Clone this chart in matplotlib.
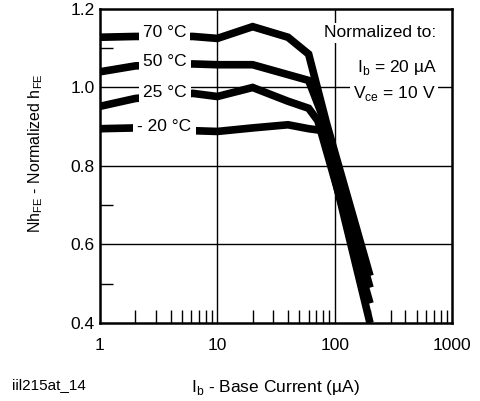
import matplotlib
matplotlib.use("Agg")
import matplotlib.pyplot as plt
from matplotlib.ticker import FixedLocator, NullFormatter, FixedFormatter

plt.rcParams["font.family"] = ["Liberation Sans", "DejaVu Sans"]

# base current (uA) and normalized hFE for each temperature
ib_70 = [1, 2, 6.2, 10, 20, 40, 60, 85, 200]
nh_70 = [1.128, 1.13, 1.13, 1.125, 1.155, 1.128, 1.085, 0.91, 0.52]
ib_50 = [1, 2, 6.2, 10, 20, 60, 78, 200]
nh_50 = [1.04, 1.055, 1.06, 1.058, 1.058, 1.018, 0.93, 0.49]
ib_25 = [1, 2, 6.2, 10, 20, 40, 60, 72, 200]
nh_25 = [0.952, 0.972, 0.985, 0.977, 1.0, 0.965, 0.947, 0.915, 0.45]
ib_m20 = [1, 2, 6.2, 10, 20, 40, 60, 80, 200]
nh_m20 = [0.895, 0.897, 0.89, 0.888, 0.897, 0.905, 0.895, 0.89, 0.40]

temp_labels = ["70 °C", "50 °C", "25 °C", "- 20 °C"]
label_y = [1.139, 1.065, 0.988, 0.90]

x_ticks = [1, 10, 100, 1000]
x_ticklabels = ["1", "10", "100", "1000"]
y_ticks = [0.4, 0.6, 0.8, 1.0, 1.2]
y_ticklabels = ["0.4", "0.6", "0.8", "1.0", "1.2"]

fig = plt.figure(figsize=(4.8, 4.01), dpi=100)
ax = fig.add_axes([0.2083, 0.1945, 0.7334, 0.7831])

for xs, ys in [(ib_70, nh_70), (ib_50, nh_50), (ib_25, nh_25), (ib_m20, nh_m20)]:
    ax.plot(xs, ys, color="black", lw=5.5, solid_joinstyle="miter",
            solid_capstyle="butt", zorder=3)

ax.set_xscale("log")
ax.set_xlim(1, 1000)
ax.set_ylim(0.4, 1.2)

ax.xaxis.set_major_locator(FixedLocator(x_ticks))
ax.xaxis.set_major_formatter(FixedFormatter(x_ticklabels))
minor_x = [m * d for d in (1, 10, 100) for m in range(2, 10)]
ax.xaxis.set_minor_locator(FixedLocator(minor_x))
ax.xaxis.set_minor_formatter(NullFormatter())
ax.yaxis.set_major_locator(FixedLocator(y_ticks))
ax.yaxis.set_major_formatter(FixedFormatter(y_ticklabels))
ax.yaxis.set_minor_locator(FixedLocator([0.5, 0.7, 0.9, 1.1]))

ax.tick_params(which="major", length=0, labelsize=12.5)
ax.tick_params(axis="y", which="major", pad=4)
ax.tick_params(axis="x", which="major", pad=11)
ax.tick_params(which="minor", direction="in", length=9.5, width=1, color="black")

for v in (10, 100):
    ax.axvline(v, color="black", lw=1, zorder=1)
for v in (0.6, 0.8, 1.0):
    ax.axhline(v, color="black", lw=1, zorder=1)

for s in ax.spines.values():
    s.set_linewidth(1.8)

for t, y in zip(temp_labels, label_y):
    ax.text(3.55, y, t, ha="center", va="center", fontsize=12.5, zorder=4,
            bbox=dict(facecolor="white", edgecolor="none", pad=3))

bb = dict(facecolor="white", edgecolor="none", pad=2)
ax.text(740, 1.139, "Normalized to:", ha="right", va="center", fontsize=12.5, zorder=4, bbox=bb)
ax.text(740, 1.052, r"I$_\mathregular{b}$ = 20 µA", ha="right", va="center", fontsize=12.5, zorder=4, bbox=bb)
ax.text(720, 0.985, r"V$_\mathregular{ce}$ = 10 V", ha="right", va="center", fontsize=12.5, zorder=4, bbox=bb)

ax.set_xlabel(r"I$_\mathregular{b}$ - Base Current (µA)", fontsize=12.5, labelpad=18)
ax.set_ylabel(r"Nh$_\mathregular{FE}$ - Normalized h$_\mathregular{FE}$", fontsize=11.5)
ax.yaxis.set_label_coords(-0.155, 0.54)
fig.text(0.025, 0.04, "iil215at_14", fontsize=11, ha="left", va="center")

fig.savefig("out.png", dpi=100)
